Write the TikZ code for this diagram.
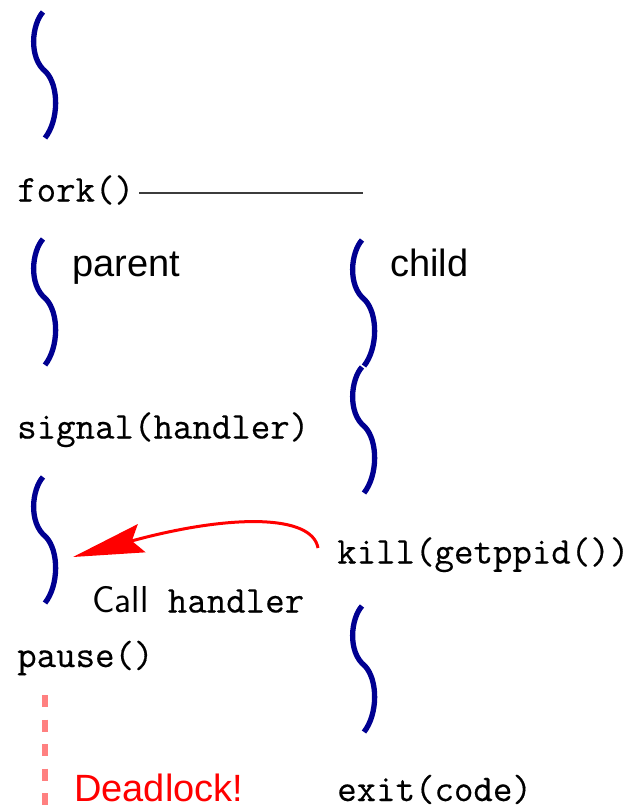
\documentclass[tikz,border=0pt]{standalone}
\usepackage{fontspec}
\newfontfamily\helv{Liberation Sans}
\newfontfamily\codefont[FakeBold=0.4]{Latin Modern Mono}
\usetikzlibrary{arrows.meta}
\definecolor{navy}{RGB}{0,0,145}
\definecolor{sigred}{RGB}{255,0,0}
\definecolor{lockpink}{RGB}{255,128,128}
\definecolor{forkgray}{RGB}{60,60,60}
\tikzset{
  x=1pt, y=-1pt,
  code/.style={font=\fontsize{37.8}{40}\selectfont\codefont, inner sep=0pt, anchor=base west},
  lbl/.style={font=\fontsize{38}{42}\selectfont\helv, inner sep=0pt, anchor=base west},
  wave/.pic={\draw[navy, line width=5.3pt]
     (0,0) .. controls (-11,12) and (-15,46) .. (3,60)
           .. controls (16,74) and (16,108) .. (2,126);},
}
\begin{document}
\begin{tikzpicture}
\useasboundingbox (0,0) rectangle (631,806);

% parent braces
\pic at (43,12) {wave};
\pic at (43,239) {wave};
\pic at (43,477) {wave};
% child braces
\pic at (362,240) {wave};
\pic at (362,367) {wave};
\pic at (362,606) {wave};

% texts
\node[code] (fork) at (17,201.5) {fork()};
\coordinate (forkend) at (363,193);
\draw[forkgray, line width=1.3pt] ([xshift=5pt]fork.east |- forkend) -- (forkend);

\node[lbl] (parent) at (72,276) {parent};
\node[lbl] (child) at (390,276) {child};

\node[code] (signal) at (17,438.5) {signal(handler)};
\node[code] (kill) at (337,563.5) {kill(getppid())};
\node[code] (call) at (92,612.5) {{\fontsize{37.5}{40}\selectfont\sffamily Call} handler};
\node[code] (pause) at (17,667) {pause()};
\node[code] (exit) at (337,801) {exit(code)};
\node[lbl, text=sigred] (dead) at (74,801.5) {Deadlock!};

% signal arrow
\coordinate (src) at (318,548);
\coordinate (hit) at (73,557);
\draw[sigred, line width=3pt, -{Stealth[length=71pt, width=29pt, inset=10pt]}]
  (src) .. controls (312,514) and (230,514) .. (hit);

% deadlock dashed line
\coordinate (lockstart) at (44.7,695);
\coordinate (lockend) at (44.7,806);
\draw[lockpink, line width=6pt, dash pattern=on 12pt off 12.5pt] (lockstart) -- (lockend);
\end{tikzpicture}
\end{document}
